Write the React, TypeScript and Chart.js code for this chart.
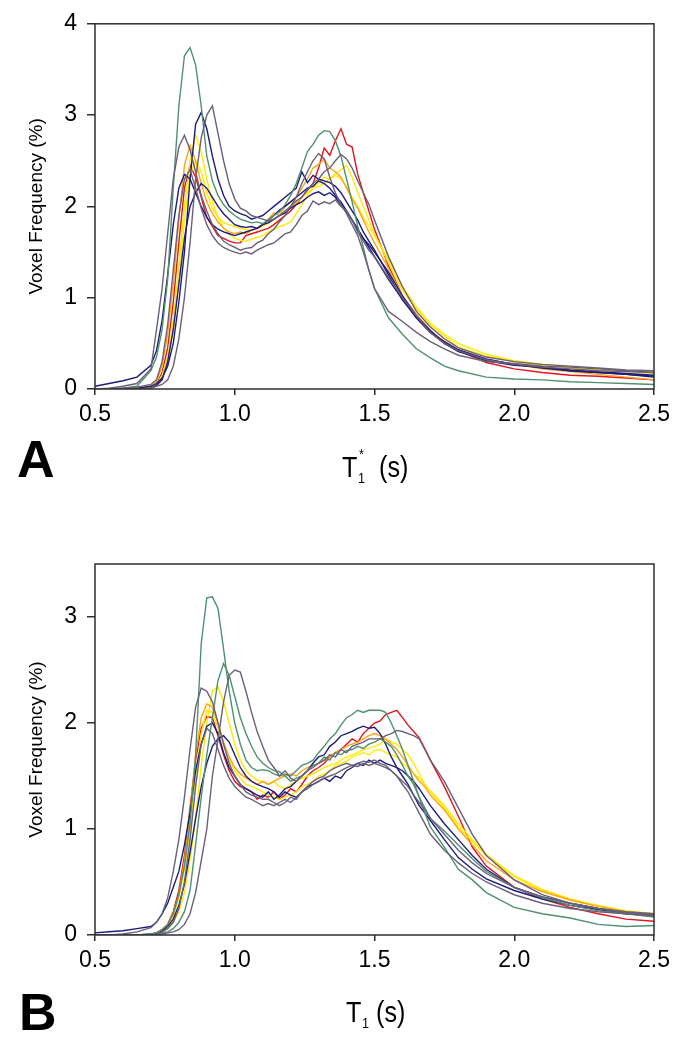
import React, { useEffect, useRef } from 'react';
import { Chart, registerables } from 'chart.js';
Chart.register(...registerables);

const X_TICKS = [0.5, 1.0, 1.5, 2.0, 2.5];
const Y_TICKS_A = [0, 1, 2, 3, 4];
const Y_TICKS_B = [0, 1, 2, 3];

const GREEN = '#4f9070';
const NAVY = '#1c1c7c';
const PURPLE = '#6b5f7a';
const RED = '#e3141c';
const YELLOW = '#ffea00';
const ORANGE = '#ffa31a';

// Panel A sample positions (s)
const T_A = [
  0.50, 0.55, 0.60, 0.65,
  0.70, 0.72, 0.74, 0.76, 0.78, 0.80, 0.82, 0.84, 0.86, 0.88,
  0.90, 0.92, 0.94, 0.96, 0.98, 1.00, 1.02, 1.04, 1.06, 1.08,
  1.10, 1.12, 1.14, 1.16, 1.18, 1.20, 1.22, 1.24, 1.26, 1.28,
  1.30, 1.32, 1.34, 1.36, 1.38, 1.40, 1.42, 1.44, 1.46, 1.48,
  1.50, 1.55, 1.60, 1.65, 1.70, 1.75, 1.80, 1.90, 2.00, 2.10,
  2.20, 2.30, 2.40, 2.50,
];

const A_GREEN = [
  0, 0, 0.01, 0.03,
  0.2, 0.35, 0.65, 1.2, 2.2, 3.1, 3.65, 3.74, 3.55, 3.1,
  2.55, 2.28, 2.12, 2.02, 1.95, 1.9, 1.86, 1.84, 1.82, 1.83,
  1.81, 1.85, 1.9, 1.94, 2.02, 2.12, 2.25, 2.42, 2.6, 2.68,
  2.78, 2.83, 2.82, 2.72, 2.55, 2.3, 2.05, 1.78, 1.55, 1.3,
  1.1, 0.78, 0.6, 0.44, 0.34, 0.25, 0.2, 0.13, 0.11, 0.1,
  0.08, 0.07, 0.06, 0.05,
];
const A_PURPLE1 = [
  0, 0.01, 0.03, 0.06,
  0.22, 0.65, 1.1, 1.7, 2.3, 2.65, 2.78, 2.62, 2.38, 2.12,
  1.95, 1.8, 1.7, 1.62, 1.58, 1.55, 1.52, 1.54, 1.55, 1.6,
  1.63, 1.7, 1.75, 1.83, 1.9, 2.0, 2.1, 2.25, 2.38, 2.5,
  2.58, 2.52, 2.32, 2.15, 2.02, 1.92, 1.8, 1.68, 1.5, 1.3,
  1.1, 0.85, 0.74, 0.62, 0.52, 0.44, 0.37, 0.3, 0.28, 0.25,
  0.24, 0.22, 0.2, 0.18,
];
const A_NAVY1 = [
  0, 0, 0, 0.01,
  0.03, 0.06, 0.12, 0.25, 0.5, 0.95, 1.5, 2.3, 2.9, 3.03,
  2.85, 2.55, 2.3, 2.12, 2.0, 1.95, 1.92, 1.9, 1.86, 1.88,
  1.9, 1.95, 2.0, 2.05, 2.1, 2.15, 2.2, 2.38, 2.26, 2.34,
  2.3, 2.28, 2.26, 2.22, 2.15, 2.05, 1.95, 1.85, 1.72, 1.62,
  1.52, 1.25, 0.98, 0.78, 0.62, 0.52, 0.43, 0.33, 0.27, 0.24,
  0.2, 0.18, 0.16, 0.13,
];
const A_PURPLE2 = [
  0, 0, 0, 0,
  0.01, 0.03, 0.05, 0.1, 0.25, 0.55, 1.0, 1.6, 2.3, 2.75,
  3.0, 3.1, 2.8, 2.5, 2.25, 2.08, 1.98, 1.95, 1.9, 1.88,
  1.86, 1.84, 1.86, 1.9, 1.95, 2.0, 2.06, 2.1, 2.18, 2.25,
  2.3, 2.38, 2.42, 2.5, 2.57, 2.52, 2.42, 2.28, 2.15, 2.02,
  1.85, 1.45, 1.12, 0.85, 0.68, 0.55, 0.45, 0.35, 0.3, 0.27,
  0.25, 0.23, 0.21, 0.2,
];
const A_YELLOW1 = [
  0, 0, 0, 0,
  0.02, 0.05, 0.15, 0.35, 0.75, 1.35, 2.0, 2.5, 2.78, 2.6,
  2.3, 2.05, 1.88, 1.76, 1.7, 1.65, 1.63, 1.62, 1.64, 1.66,
  1.68, 1.72, 1.75, 1.78, 1.8, 1.83, 1.92, 2.02, 2.12, 2.2,
  2.26, 2.32, 2.3, 2.36, 2.4, 2.45, 2.32, 2.15, 2.0, 1.85,
  1.7, 1.38, 1.08, 0.88, 0.7, 0.58, 0.46, 0.36, 0.3, 0.26,
  0.23, 0.21, 0.19, 0.17,
];
const A_ORANGE = [
  0, 0, 0, 0.01,
  0.03, 0.08, 0.25, 0.6, 1.15, 1.85, 2.45, 2.67, 2.5, 2.25,
  2.05, 1.92, 1.83, 1.76, 1.72, 1.7, 1.72, 1.7, 1.74, 1.76,
  1.8, 1.86, 1.93, 1.9, 2.0, 2.05, 2.1, 2.2, 2.3, 2.42,
  2.46, 2.52, 2.42, 2.38, 2.32, 2.2, 2.08, 1.98, 1.85, 1.72,
  1.6, 1.32, 1.02, 0.82, 0.64, 0.52, 0.42, 0.32, 0.27, 0.22,
  0.19, 0.16, 0.13, 0.1,
];
const A_RED = [
  0, 0, 0, 0,
  0.02, 0.05, 0.18, 0.45, 0.95, 1.6, 2.2, 2.45, 2.32, 2.1,
  1.88, 1.78, 1.68, 1.65, 1.62, 1.6, 1.6, 1.68, 1.7, 1.72,
  1.74, 1.76, 1.8, 1.85, 1.9, 1.95, 2.02, 2.1, 2.18, 2.25,
  2.42, 2.64, 2.56, 2.72, 2.85, 2.68, 2.65, 2.35, 2.15, 1.95,
  1.75, 1.35, 1.02, 0.78, 0.62, 0.52, 0.42, 0.29, 0.22, 0.18,
  0.15, 0.14, 0.12, 0.1,
];
const A_NAVY2 = [
  0, 0, 0, 0,
  0.01, 0.04, 0.1, 0.3, 0.65, 1.15, 1.65, 2.0, 2.15, 2.25,
  2.2, 2.1, 2.0, 1.92, 1.86, 1.8, 1.78, 1.77, 1.78, 1.76,
  1.8, 1.82, 1.86, 1.9, 1.93, 1.98, 2.02, 2.05, 2.1, 2.14,
  2.16, 2.12, 2.15, 2.1, 2.02, 1.95, 1.85, 1.75, 1.65, 1.58,
  1.5, 1.28, 1.02, 0.8, 0.64, 0.5, 0.42, 0.31, 0.26, 0.24,
  0.21, 0.19, 0.17, 0.15,
];
const A_PURPLE3 = [
  0, 0, 0.01, 0.02,
  0.05, 0.1, 0.3, 0.7, 1.3, 1.9, 2.3, 2.4, 2.2, 1.98,
  1.8, 1.68, 1.6, 1.55, 1.52, 1.5, 1.48, 1.5, 1.48, 1.52,
  1.55, 1.58, 1.6, 1.65, 1.7, 1.72, 1.8, 1.9, 1.95, 2.06,
  2.02, 2.05, 2.03, 2.07, 2.0, 1.95, 1.85, 1.72, 1.62, 1.52,
  1.45, 1.22, 1.0, 0.8, 0.62, 0.5, 0.42, 0.32, 0.27, 0.24,
  0.22, 0.2, 0.19, 0.18,
];
const A_NAVY3 = [
  0.03, 0.06, 0.09, 0.13,
  0.26, 0.42, 0.75, 1.25, 1.8, 2.2, 2.35, 2.3, 2.15, 2.0,
  1.88, 1.8, 1.75, 1.72, 1.7, 1.68, 1.7, 1.72, 1.74, 1.76,
  1.8, 1.85, 1.9, 1.96, 2.0, 2.05, 2.1, 2.15, 2.2, 2.22,
  2.28, 2.25, 2.2, 2.12, 2.05, 1.95, 1.85, 1.75, 1.65, 1.55,
  1.45, 1.2, 0.98, 0.78, 0.62, 0.5, 0.41, 0.32, 0.27, 0.23,
  0.2, 0.18, 0.16, 0.14,
];
const A_YELLOW2 = [
  0, 0, 0, 0,
  0.01, 0.04, 0.12, 0.3, 0.65, 1.2, 1.85, 2.35, 2.5, 2.38,
  2.15, 1.98, 1.88, 1.82, 1.8, 1.78, 1.76, 1.75, 1.74, 1.76,
  1.78, 1.82, 1.85, 1.9, 1.92, 1.98, 2.04, 2.1, 2.15, 2.2,
  2.22, 2.25, 2.3, 2.34, 2.3, 2.22, 2.1, 2.0, 1.88, 1.78,
  1.68, 1.42, 1.12, 0.9, 0.72, 0.6, 0.5, 0.38, 0.31, 0.27,
  0.24, 0.22, 0.2, 0.18,
];

// Panel B sample positions (s)
const T_B = [
  0.50, 0.55, 0.60, 0.65, 0.70,
  0.72, 0.74, 0.76, 0.78, 0.80, 0.82, 0.84, 0.86, 0.88, 0.90,
  0.92, 0.94, 0.96, 0.98, 1.00, 1.02, 1.04, 1.06, 1.08, 1.10,
  1.12, 1.14, 1.16, 1.18, 1.20, 1.22, 1.24, 1.26, 1.28, 1.30,
  1.32, 1.34, 1.36, 1.38, 1.40, 1.42, 1.44, 1.46, 1.48, 1.50,
  1.52, 1.54, 1.56, 1.58, 1.60, 1.62, 1.64, 1.66, 1.68, 1.70,
  1.75, 1.80, 1.85, 1.90, 2.00, 2.10, 2.20, 2.30, 2.40, 2.50,
];

const B_GREEN1 = [
  0, 0, 0, 0, 0.01,
  0.02, 0.05, 0.1, 0.2, 0.38, 0.65, 1.05, 1.7, 2.75, 3.18,
  3.19, 3.08, 2.7, 2.3, 2.0, 1.8, 1.65, 1.58, 1.55, 1.56,
  1.55, 1.52, 1.5, 1.52, 1.5, 1.55, 1.6, 1.62, 1.65, 1.72,
  1.78, 1.85, 1.9, 1.98, 2.05, 2.08, 2.12, 2.1, 2.12, 2.12,
  2.12, 2.1, 2.0, 1.88, 1.75, 1.6, 1.45, 1.3, 1.15, 1.02,
  0.83, 0.62, 0.52, 0.4, 0.26, 0.2, 0.16, 0.1, 0.08, 0.09,
];
const B_GREEN2 = [
  0, 0, 0, 0, 0,
  0.01, 0.02, 0.03, 0.06, 0.12, 0.22, 0.42, 0.85, 1.3, 1.7,
  2.05, 2.4, 2.56, 2.45, 2.25, 2.05, 1.9, 1.78, 1.68, 1.62,
  1.58, 1.55, 1.54, 1.5, 1.45, 1.48, 1.5, 1.55, 1.6, 1.62,
  1.68, 1.65, 1.72, 1.7, 1.74, 1.75, 1.78, 1.76, 1.8, 1.82,
  1.85, 1.82, 1.78, 1.7, 1.6, 1.5, 1.42, 1.3, 1.2, 1.1,
  0.98, 0.85, 0.72, 0.6, 0.45, 0.35, 0.28, 0.23, 0.2, 0.17,
];
const B_PURPLE1 = [
  0, 0, 0.01, 0.03, 0.07,
  0.12, 0.2, 0.35, 0.6, 0.9, 1.3, 1.75, 2.15, 2.33, 2.3,
  2.2, 2.0, 1.8, 1.62, 1.5, 1.42, 1.35, 1.32, 1.3, 1.28,
  1.28, 1.25, 1.22, 1.25, 1.3, 1.28, 1.35, 1.4, 1.45, 1.48,
  1.5, 1.55, 1.58, 1.6, 1.62, 1.6, 1.62, 1.64, 1.63, 1.65,
  1.62, 1.6, 1.55, 1.5, 1.42, 1.35, 1.25, 1.15, 1.05, 0.95,
  0.8, 0.68, 0.58, 0.5, 0.38, 0.3, 0.25, 0.22, 0.2, 0.18,
];
const B_PURPLE2 = [
  0, 0, 0, 0, 0,
  0, 0.01, 0.02, 0.03, 0.05, 0.1, 0.2, 0.4, 0.7, 1.0,
  1.5, 1.84, 2.2, 2.45, 2.5, 2.48, 2.3, 2.1, 1.92, 1.78,
  1.65, 1.58, 1.5, 1.55, 1.48, 1.45, 1.5, 1.55, 1.58, 1.62,
  1.65, 1.7, 1.68, 1.75, 1.72, 1.78, 1.8, 1.82, 1.85, 1.85,
  1.85, 1.88, 1.9, 1.93, 1.92, 1.9, 1.88, 1.85, 1.75, 1.65,
  1.45, 1.2, 0.95, 0.75, 0.52, 0.38, 0.3, 0.25, 0.21, 0.19,
];
const B_PURPLE3 = [
  0, 0, 0, 0, 0,
  0.01, 0.03, 0.06, 0.12, 0.25, 0.5, 0.9, 1.4, 1.8, 1.95,
  1.9, 1.75, 1.6, 1.48, 1.4, 1.35, 1.3, 1.28, 1.25, 1.22,
  1.24, 1.22, 1.25, 1.28, 1.25, 1.3, 1.35, 1.38, 1.42, 1.45,
  1.48, 1.5, 1.52, 1.55, 1.58, 1.6, 1.59, 1.62, 1.6, 1.62,
  1.6, 1.58, 1.55, 1.5, 1.45, 1.4, 1.32, 1.25, 1.18, 1.1,
  0.95, 0.8, 0.68, 0.58, 0.45, 0.36, 0.3, 0.25, 0.22, 0.2,
];
const B_NAVY1 = [
  0.02, 0.03, 0.04, 0.06, 0.08,
  0.12, 0.2, 0.3, 0.45, 0.6, 0.85, 1.15, 1.55, 1.8, 1.97,
  2.0, 1.9, 1.72, 1.58, 1.5, 1.42, 1.38, 1.35, 1.32, 1.3,
  1.35, 1.28, 1.32, 1.38, 1.4, 1.45, 1.5, 1.55, 1.62, 1.68,
  1.7, 1.78, 1.82, 1.88, 1.9, 1.92, 1.95, 1.97, 1.95, 1.96,
  1.9, 1.8, 1.68, 1.58, 1.5, 1.42, 1.32, 1.22, 1.15, 1.08,
  0.9, 0.73, 0.62, 0.53, 0.42, 0.34, 0.28, 0.24, 0.2, 0.18,
];
const B_NAVY2 = [
  0, 0, 0, 0, 0.01,
  0.02, 0.04, 0.08, 0.15, 0.28, 0.48, 0.78, 1.1, 1.4, 1.62,
  1.78, 1.85, 1.88, 1.82, 1.7, 1.58, 1.5, 1.45, 1.42, 1.4,
  1.38, 1.35, 1.3, 1.35, 1.32, 1.3, 1.35, 1.4, 1.42, 1.45,
  1.48, 1.45, 1.5, 1.48, 1.55, 1.58, 1.62, 1.6, 1.65, 1.62,
  1.65, 1.62, 1.6, 1.58, 1.55, 1.5, 1.45, 1.38, 1.3, 1.22,
  1.05, 0.9, 0.75, 0.62, 0.45, 0.36, 0.3, 0.25, 0.21, 0.18,
];
const B_ORANGE = [
  0, 0, 0, 0, 0,
  0.02, 0.05, 0.1, 0.2, 0.38, 0.7, 1.15, 1.7, 2.05, 2.18,
  2.15, 2.0, 1.82, 1.68, 1.58, 1.52, 1.48, 1.45, 1.42, 1.45,
  1.42, 1.45, 1.48, 1.5, 1.52, 1.5, 1.55, 1.58, 1.6, 1.62,
  1.65, 1.68, 1.72, 1.75, 1.78, 1.8, 1.82, 1.85, 1.88, 1.9,
  1.88, 1.85, 1.8, 1.75, 1.68, 1.6, 1.52, 1.45, 1.4, 1.32,
  1.18, 1.0, 0.85, 0.7, 0.52, 0.41, 0.33, 0.27, 0.22, 0.2,
];
const B_YELLOW1 = [
  0, 0, 0, 0, 0,
  0.01, 0.03, 0.06, 0.12, 0.22, 0.4, 0.7, 1.1, 1.6, 2.0,
  2.3, 2.34, 2.2, 2.0, 1.8, 1.65, 1.55, 1.5, 1.46, 1.45,
  1.42, 1.45, 1.4, 1.38, 1.42, 1.45, 1.48, 1.5, 1.52, 1.55,
  1.58, 1.6, 1.62, 1.65, 1.68, 1.7, 1.72, 1.75, 1.76, 1.78,
  1.8, 1.85, 1.82, 1.8, 1.75, 1.7, 1.62, 1.52, 1.42, 1.35,
  1.2, 1.02, 0.88, 0.75, 0.55, 0.42, 0.33, 0.27, 0.22, 0.19,
];
const B_YELLOW2 = [
  0, 0, 0, 0, 0,
  0.01, 0.04, 0.09, 0.18, 0.35, 0.62, 1.0, 1.5, 1.9, 2.12,
  2.1, 1.95, 1.8, 1.65, 1.55, 1.48, 1.42, 1.4, 1.38, 1.35,
  1.32, 1.3, 1.28, 1.3, 1.32, 1.35, 1.4, 1.42, 1.45, 1.5,
  1.52, 1.55, 1.6, 1.62, 1.64, 1.68, 1.7, 1.72, 1.7, 1.74,
  1.75, 1.72, 1.7, 1.68, 1.62, 1.58, 1.52, 1.48, 1.42, 1.36,
  1.22, 1.05, 0.9, 0.76, 0.56, 0.43, 0.34, 0.28, 0.23, 0.2,
];
const B_RED = [
  0, 0, 0, 0, 0,
  0.02, 0.05, 0.1, 0.22, 0.42, 0.75, 1.2, 1.65, 1.95, 2.06,
  2.05, 1.88, 1.7, 1.55, 1.45, 1.4, 1.38, 1.35, 1.28, 1.32,
  1.3, 1.35, 1.28, 1.32, 1.38, 1.35, 1.42, 1.5, 1.55, 1.58,
  1.62, 1.68, 1.72, 1.75, 1.8, 1.85, 1.82, 1.9, 1.95, 2.0,
  2.02, 2.08, 2.1, 2.12, 2.05, 1.98, 1.92, 1.86, 1.76, 1.65,
  1.4, 1.12, 0.83, 0.65, 0.45, 0.34, 0.26, 0.2, 0.15, 0.13,
];

const SERIES_A = [
  { color: PURPLE, values: A_PURPLE1 },
  { color: PURPLE, values: A_PURPLE2 },
  { color: PURPLE, values: A_PURPLE3 },
  { color: GREEN, values: A_GREEN },
  { color: NAVY, values: A_NAVY1 },
  { color: NAVY, values: A_NAVY2 },
  { color: NAVY, values: A_NAVY3 },
  { color: ORANGE, values: A_ORANGE },
  { color: YELLOW, values: A_YELLOW1 },
  { color: YELLOW, values: A_YELLOW2 },
  { color: RED, values: A_RED },
];
const SERIES_B = [
  { color: PURPLE, values: B_PURPLE1 },
  { color: PURPLE, values: B_PURPLE2 },
  { color: PURPLE, values: B_PURPLE3 },
  { color: GREEN, values: B_GREEN1 },
  { color: GREEN, values: B_GREEN2 },
  { color: NAVY, values: B_NAVY1 },
  { color: NAVY, values: B_NAVY2 },
  { color: ORANGE, values: B_ORANGE },
  { color: YELLOW, values: B_YELLOW1 },
  { color: YELLOW, values: B_YELLOW2 },
  { color: RED, values: B_RED },
];

const SANS = "'Liberation Sans', Arial, sans-serif";
const AXIS_COLOR = '#2e2e2e';

const framePlugin = {
  id: 'frame',
  afterDraw(chart: any) {
    const { ctx, chartArea: a } = chart;
    ctx.save();
    ctx.strokeStyle = AXIS_COLOR;
    ctx.lineWidth = 1.5;
    ctx.strokeRect(a.left, a.top, a.right - a.left, a.bottom - a.top);
    ctx.restore();
  },
};

type PanelProps = {
  xs: number[];
  series: { color: string; values: number[] }[];
  yMax: number;
  yTicks: number[];
  top: number;
  height: number;
  padTop: number;
  xAxisHeight: number;
};

function Panel({ xs, series, yMax, yTicks, top, height, padTop, xAxisHeight }: PanelProps) {
  const ref = useRef<HTMLCanvasElement>(null);
  useEffect(() => {
    const chart = new Chart(ref.current as HTMLCanvasElement, {
      type: 'line',
      data: {
        datasets: series.map((s) => ({
          data: xs.map((x, i) => ({ x, y: s.values[i] })),
          borderColor: s.color,
          backgroundColor: s.color,
          borderWidth: 1.4,
          pointRadius: 0,
          tension: 0,
          fill: false,
        })),
      },
      options: {
        animation: false,
        responsive: false,
        devicePixelRatio: 1,
        layout: { padding: { top: padTop, right: 27, left: 0, bottom: 0 } },
        plugins: { legend: { display: false }, tooltip: { enabled: false } },
        scales: {
          x: {
            type: 'linear',
            min: 0.5,
            max: 2.5,
            afterBuildTicks: (sc: any) => {
              sc.ticks = X_TICKS.map((v) => ({ value: v }));
            },
            afterFit: (sc: any) => {
              sc.height = xAxisHeight;
            },
            ticks: {
              callback: (v: any) => Number(v).toFixed(1),
              font: { family: SANS, size: 23 },
              color: '#000',
              padding: 6,
              maxRotation: 0,
              autoSkip: false,
            },
            grid: { drawOnChartArea: false, drawTicks: true, tickLength: 6, color: AXIS_COLOR, lineWidth: 1.5 },
            border: { display: false },
          },
          y: {
            type: 'linear',
            min: 0,
            max: yMax,
            afterBuildTicks: (sc: any) => {
              sc.ticks = yTicks.map((v) => ({ value: v }));
            },
            afterFit: (sc: any) => {
              sc.width = 95;
            },
            ticks: {
              callback: (v: any) => String(v),
              font: { family: SANS, size: 23 },
              color: '#000',
              padding: 10,
              autoSkip: false,
            },
            title: {
              display: true,
              text: 'Voxel Frequency (%)',
              font: { family: SANS, size: 19 },
              color: '#000',
              padding: { top: 25, bottom: 0 },
            },
            grid: { drawOnChartArea: false, drawTicks: true, tickLength: 8, color: AXIS_COLOR, lineWidth: 1.5 },
            border: { display: false },
          },
        },
      } as any,
      plugins: [framePlugin],
    });
    return () => chart.destroy();
  }, []);
  return (
    <canvas
      ref={ref}
      width={681}
      height={height}
      style={{ position: 'absolute', left: 0, top, width: 681, height }}
    />
  );
}

const narrow = { transform: 'scaleX(0.84)', transformOrigin: 'left top' };
const titleFont = { fontFamily: SANS, fontSize: 30, lineHeight: '30px', color: '#000', position: 'absolute' as const, whiteSpace: 'nowrap' as const, ...narrow };
const smallFont = { fontFamily: SANS, fontSize: 15, lineHeight: '15px', color: '#000', position: 'absolute' as const, whiteSpace: 'nowrap' as const, ...narrow };
const letterFont = { fontFamily: SANS, fontWeight: 700, fontSize: 52, lineHeight: '52px', color: '#000', position: 'absolute' as const };

export default function App() {
  useEffect(() => {
    document.body.style.margin = '0';
  }, []);
  return (
    <div style={{ position: 'absolute', left: 0, top: 0, width: 681, height: 1050, background: '#fff', overflow: 'hidden' }}>
      <Panel xs={T_A} series={SERIES_A} yMax={4} yTicks={Y_TICKS_A} top={0} height={500} padTop={19} xAxisHeight={111} />
      <Panel xs={T_B} series={SERIES_B} yMax={3.5} yTicks={Y_TICKS_B} top={540} height={510} padTop={24} xAxisHeight={115} />

      <div style={{ ...letterFont, left: 17, top: 433 }}>A</div>
      <div style={{ ...titleFont, left: 342, top: 452 }}>T</div>
      <div style={{ ...smallFont, left: 359, top: 446 }}>*</div>
      <div style={{ ...smallFont, left: 358, top: 470 }}>1</div>
      <div style={{ ...titleFont, left: 379, top: 452 }}>(s)</div>

      <div style={{ ...letterFont, left: 19, top: 986 }}>B</div>
      <div style={{ ...titleFont, left: 346, top: 997 }}>T</div>
      <div style={{ ...smallFont, left: 362, top: 1015 }}>1</div>
      <div style={{ ...titleFont, left: 376, top: 997 }}>(s)</div>
    </div>
  );
}
